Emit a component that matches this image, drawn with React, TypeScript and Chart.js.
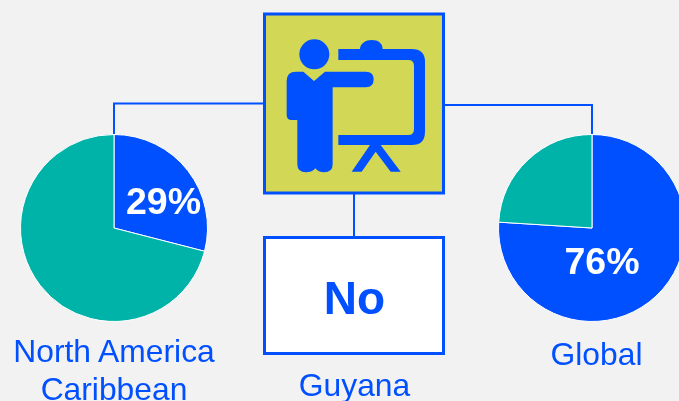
import React, { useEffect, useRef } from "react";
import { Chart, registerables } from "chart.js";

Chart.register(...registerables);

const sliceLabels = ["Yes", "No"];
const northAmericaValues = [29, 71];
const globalValues = [76, 24];
const BLUE = "#0050ff";
const TEAL = "#00b3a8";
const FONT = '"Liberation Sans", Arial, sans-serif';

function Pie({ values, left, top, size }: { values: number[]; left: number; top: number; size: number }) {
  const ref = useRef<HTMLCanvasElement>(null);
  useEffect(() => {
    const chart = new Chart(ref.current!, {
      type: "pie",
      data: {
        labels: sliceLabels,
        datasets: [
          {
            data: values,
            backgroundColor: [BLUE, TEAL],
            borderColor: "#ffffff",
            borderWidth: 1,
          },
        ],
      },
      options: {
        animation: false,
        responsive: false,
        layout: { padding: 0 },
        plugins: { legend: { display: false }, tooltip: { enabled: false } },
      },
    });
    return () => chart.destroy();
  }, []);
  return (
    <canvas
      ref={ref}
      width={size}
      height={size}
      style={{ position: "absolute", left, top, width: size, height: size }}
    />
  );
}

export default function App() {
  useEffect(() => {
    document.body.style.margin = "0";
    document.body.style.background = "#f2f2f2";
  }, []);
  return (
    <div style={{ position: "relative", width: 679, height: 401, overflow: "hidden", background: "#f2f2f2" }}>
      <svg width={679} height={401} style={{ position: "absolute", left: 0, top: 0 }}>
        <g fill="none" stroke={BLUE} strokeWidth={2}>
          <path d="M114 134V103.5H264" />
          <path d="M444 105H592V134" />
          <path d="M354 194V237" />
        </g>
        <rect x={264.5} y={14} width={179} height={179} fill="#d2d755" stroke={BLUE} strokeWidth={3} />
        <rect x={264.5} y={237.5} width={179} height={116} fill="#ffffff" stroke={BLUE} strokeWidth={3} />
        <g transform="translate(260 5) scale(0.33333)" fill={BLUE}>
          <circle cx={163} cy={148} r={45} />
          <path d="M80 228Q80 200 108 200L130 200L162 228L195 200L318 200Q341 200 341 223Q341 247 318 247L218 247L218 478Q218 502 192 502Q175 502 166 490Q157 502 138 502Q112 502 112 478L112 345L95 345Q80 345 80 330Z" />
          <path d="M235 132L300 132C300 115 318 105 335 105C355 105 368 115 368 132L455 132Q495 132 495 170L495 380Q495 420 455 420L235 420L235 390L445 390Q462 390 462 372L462 182Q462 165 445 165L235 165Z" />
          <path d="M330 420L275 500L305 500L347 440L392 500L422 500L362 420Z" />
        </g>
      </svg>
      <Pie values={northAmericaValues} left={20} top={134} size={188} />
      <Pie values={globalValues} left={498} top={134} size={188} />
      <svg width={679} height={401} style={{ position: "absolute", left: 0, top: 0 }} fontFamily={FONT}>
        <g fill="#ffffff" fontWeight="bold" fontSize={37.5} textAnchor="middle">
          <text x={163.5} y={214}>29%</text>
          <text x={602} y={274}>76%</text>
        </g>
        <text x={354.5} y={314} fill={BLUE} fontWeight="bold" fontSize={46} textAnchor="middle">No</text>
        <g fill={BLUE} fontSize={31.8} textAnchor="middle">
          <text x={114} y={362}>North America</text>
          <text x={114} y={400}>Caribbean</text>
          <text x={354.5} y={396}>Guyana</text>
          <text x={596.5} y={365}>Global</text>
        </g>
      </svg>
    </div>
  );
}
